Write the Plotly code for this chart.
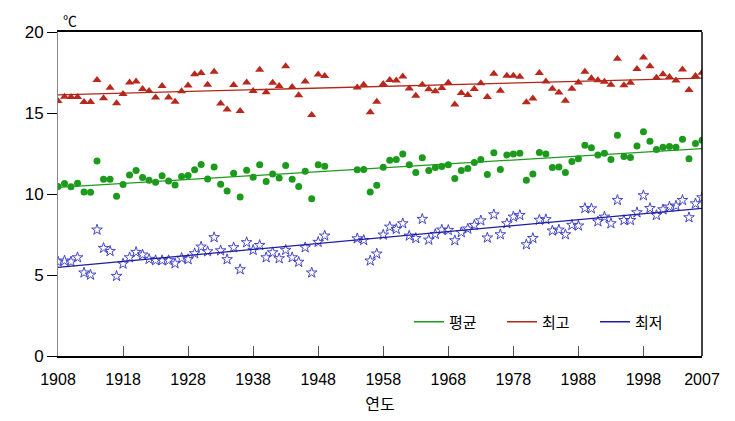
import numpy as np
import plotly.graph_objects as go

# Years (no observations 1950-1953)
years = list(range(1908, 1950)) + list(range(1954, 2008))

tmax = [15.74, 16.01, 15.99, 15.99, 15.68, 15.68, 17.04, 15.91, 16.56, 15.60, 16.17, 16.89, 16.95, 16.48, 16.36, 15.95, 16.67, 15.95, 15.70, 16.34, 16.69, 17.39, 17.47, 16.75, 17.55,
        15.58, 15.21, 16.73, 15.12, 16.89, 16.36, 17.67, 16.28, 16.87, 16.67, 17.88, 16.61, 16.09, 16.95, 14.88, 17.37, 17.28,
        16.58, 16.75, 15.04, 15.70,
        16.79, 17.04, 17.00, 17.26, 16.52, 16.07, 16.75, 16.46, 16.34, 16.54, 16.87, 15.52, 16.24, 16.11, 16.48, 16.83, 15.99, 17.43, 16.38, 17.30, 17.30, 17.24, 15.66, 15.89, 17.47,
        16.95, 16.50, 16.26, 15.76, 16.50, 16.89, 17.55, 17.14, 17.02, 16.93, 16.75, 18.35, 16.71, 16.87, 17.71, 18.43, 17.88, 17.18, 17.39, 17.22, 17.00, 17.69, 16.42, 17.28, 17.49]

tmean = [10.46, 10.65, 10.44, 10.67, 10.13, 10.11, 12.04, 10.91, 10.91, 9.86, 10.58, 11.18, 11.45, 11.02, 10.85, 10.73, 11.12, 10.81, 10.56, 11.08, 11.14, 11.49, 11.82, 10.93, 11.67,
         10.60, 10.19, 11.28, 9.82, 11.47, 11.04, 11.80, 10.77, 11.24, 10.99, 11.76, 10.91, 10.46, 11.41, 9.70, 11.80, 11.71,
         11.49, 11.51, 10.13, 10.54,
         11.65, 12.08, 12.13, 12.47, 11.80, 11.32, 12.23, 11.45, 11.63, 11.69, 11.80, 10.95, 11.45, 11.57, 11.94, 12.13, 11.20, 12.54, 11.51, 12.41, 12.47, 12.52, 10.85, 11.24, 12.56,
         12.47, 11.63, 11.67, 11.32, 12.00, 12.17, 13.01, 12.86, 12.41, 12.52, 12.13, 13.63, 12.31, 12.25, 12.97, 13.85, 13.26, 12.74, 12.89, 12.93, 12.89, 13.38, 12.17, 13.11, 13.32]

tmin = [5.82, 5.88, 5.82, 6.08, 5.14, 5.01, 7.79, 6.66, 6.47, 4.93, 5.69, 6.08, 6.41, 6.25, 5.98, 5.90, 5.90, 5.90, 5.71, 6.04, 5.96, 6.33, 6.74, 6.45, 7.32,
        6.51, 5.96, 6.70, 5.34, 7.01, 6.54, 6.84, 6.08, 6.39, 6.02, 6.54, 6.08, 5.80, 6.70, 5.14, 7.03, 7.42,
        7.25, 7.15, 5.88, 6.31,
        7.48, 7.97, 7.83, 8.18, 7.42, 7.27, 8.45, 7.17, 7.52, 7.79, 7.77, 7.13, 7.63, 7.85, 8.08, 8.36, 7.30, 8.73, 7.50, 8.18, 8.59, 8.69, 6.88, 7.27, 8.40,
        8.43, 7.73, 7.79, 7.50, 8.08, 8.04, 9.12, 9.10, 8.30, 8.59, 8.18, 9.62, 8.38, 8.38, 8.86, 9.91, 9.12, 8.69, 9.04, 9.21, 9.27, 9.62, 8.55, 9.41, 9.78]

series_names = ["평균", "최고", "최저"]
xtick_vals = [1908, 1918, 1928, 1938, 1948, 1958, 1968, 1978, 1988, 1998, 2007]
ytick_vals = [0, 5, 10, 15, 20]

KFONT = "Noto Sans CJK KR"
NFONT = "Liberation Sans, Arial, sans-serif"

fig = go.Figure()

specs = [
    (tmean, series_names[0], dict(symbol="circle", size=7, color="#1c9a1c"), "#1f9a1f"),
    (tmax, series_names[1], dict(symbol="triangle-up", size=8, color="#b8281c"), "#b02818"),
    (tmin, series_names[2], dict(symbol="star-open", size=8, color="#4646c8", line=dict(width=1, color="#4646c8")), "#1e1e9e"),
]

# markers
for vals, name, mk, lc in specs:
    fig.add_trace(go.Scatter(x=years, y=vals, mode="markers", marker=mk,
                             showlegend=False, hoverinfo="x+y", name=name))

# linear trend lines (fitted from data)
xs = np.array(years, dtype=float)
xline = np.array([xtick_vals[0], xtick_vals[-1]], dtype=float)
for vals, name, mk, lc in specs:
    k, b = np.polyfit(xs, np.array(vals), 1)
    fig.add_trace(go.Scatter(x=xline, y=k * xline + b, mode="lines",
                             line=dict(color=lc, width=1.3), name=name, showlegend=True))

fig.update_layout(
    width=735, height=421,
    margin=dict(l=58, r=33, t=32, b=65, autoexpand=False),
    paper_bgcolor="white", plot_bgcolor="white",
    font=dict(family=NFONT, size=16, color="black"),
    legend=dict(orientation="h", x=0.545, y=0.105, xanchor="left", yanchor="middle",
                font=dict(family=KFONT, size=15, color="black"),
                bgcolor="rgba(0,0,0,0)", entrywidth=48, entrywidthmode="pixels",
                itemwidth=30, tracegroupgap=0),
    xaxis=dict(range=[1908, 2007], tickvals=xtick_vals, ticktext=[str(v) for v in xtick_vals],
               ticks="inside", ticklen=10, tickcolor="#555555", tickwidth=1,
               showline=True, linecolor="black", linewidth=1.5, mirror=True,
               showgrid=False, zeroline=False, ticklabelstandoff=8,
               tickfont=dict(family=NFONT, size=16),
               title=dict(text="연도", font=dict(family=KFONT, size=16), standoff=12)),
    yaxis=dict(range=[0, 20], tickvals=ytick_vals,
               ticks="outside", ticklen=10, tickcolor="black", tickwidth=1,
               showline=True, linecolor="#888888", linewidth=1, mirror=False,
               showgrid=False, zeroline=False,
               tickfont=dict(family=NFONT, size=17)),
    shapes=[dict(type="line", xref="paper", yref="paper", x0=1, x1=1, y0=0, y1=1,
                 line=dict(color="black", width=1.5))],
    annotations=[dict(text="℃", xref="paper", yref="paper", x=0.004, y=1.0,
                      xanchor="left", yanchor="bottom", showarrow=False,
                      font=dict(family=KFONT, size=14, color="black"))],
)

fig.write_html("out.html")
